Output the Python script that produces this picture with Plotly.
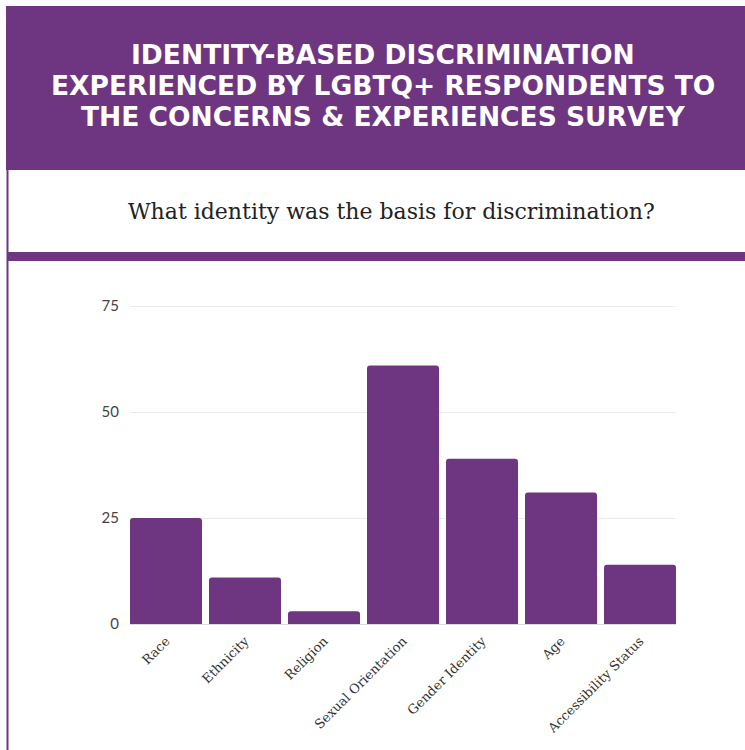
import plotly.graph_objects as go

# Survey responses: identity named as the basis for discrimination
categories = ["Race", "Ethnicity", "Religion", "Sexual Orientation",
              "Gender Identity", "Age", "Accessibility Status"]
counts = [25, 11, 3, 61, 39, 31, 14]
y_ticks = [0, 25, 50, 75]

title_lines = ["IDENTITY-BASED DISCRIMINATION",
               "EXPERIENCED BY LGBTQ+ RESPONDENTS TO",
               "THE CONCERNS &amp; EXPERIENCES SURVEY"]
subtitle = "What identity was the basis for discrimination?"

PURPLE = "#6e3681"
W, H = 745, 750
# plot area in page pixels (y top sits just above the 75 gridline)
L, R, T, B = 130, 676, 304, 624
Y_MAX = 75.5
BARGAP = 0.0886


def px(x):
    return (x - L) / (R - L)


def py(y):
    return (B - y) / (B - T)


fig = go.Figure(go.Bar(
    x=categories, y=counts, marker_color=PURPLE, marker_line_width=0,
    hoverinfo="x+y",
))

shapes = [
    # header block
    dict(type="rect", xref="paper", yref="paper", x0=px(6), x1=px(745),
         y0=py(170), y1=py(6), fillcolor=PURPLE, line_width=0, layer="below"),
    # divider band under the question
    dict(type="rect", xref="paper", yref="paper", x0=px(7), x1=px(745),
         y0=py(261), y1=py(252), fillcolor=PURPLE, line_width=0, layer="below"),
    # left border
    dict(type="line", xref="paper", yref="paper", x0=px(7.5), x1=px(7.5),
         y0=py(750), y1=py(6), line=dict(color=PURPLE, width=2), layer="below"),
]

annotations = []
# header title, one annotation per line for tighter leading
for line, yc in zip(title_lines, [54, 85.5, 117]):
    annotations.append(dict(
        text=line, xref="paper", yref="paper", x=px(383), y=py(yc),
        xanchor="center", yanchor="middle", showarrow=False,
        font=dict(family="DejaVu Sans", size=26.5, color="white", weight=700)))

annotations.append(dict(
    text=subtitle, xref="paper", yref="paper", x=px(391), y=py(212),
    xanchor="center", yanchor="middle", showarrow=False,
    font=dict(family="DejaVu Serif", size=22, color="#222222")))

fig.update_layout(
    width=W, height=H,
    margin=dict(l=L, r=W - R, t=T, b=H - B, pad=0),
    paper_bgcolor="white", plot_bgcolor="white",
    bargap=BARGAP, barcornerradius=3,
    showlegend=False,
    shapes=shapes, annotations=annotations,
    xaxis=dict(tickangle=-45, showgrid=False, showline=False, ticks="",
               range=[-0.5 + BARGAP / 2, len(categories) - 0.5 - BARGAP / 2],
               ticklabelstandoff=6,
               tickfont=dict(family="DejaVu Serif", size=13, color="#333333")),
    yaxis=dict(range=[0, Y_MAX], tickvals=y_ticks, showgrid=True,
               gridcolor="#ebebeb", gridwidth=1, zeroline=True,
               zerolinecolor="#dcdcdc", zerolinewidth=1, ticks="",
               ticklabelstandoff=10,
               tickfont=dict(family="Lato", size=15, color="#444444")),
)

fig.write_html("out.html")
